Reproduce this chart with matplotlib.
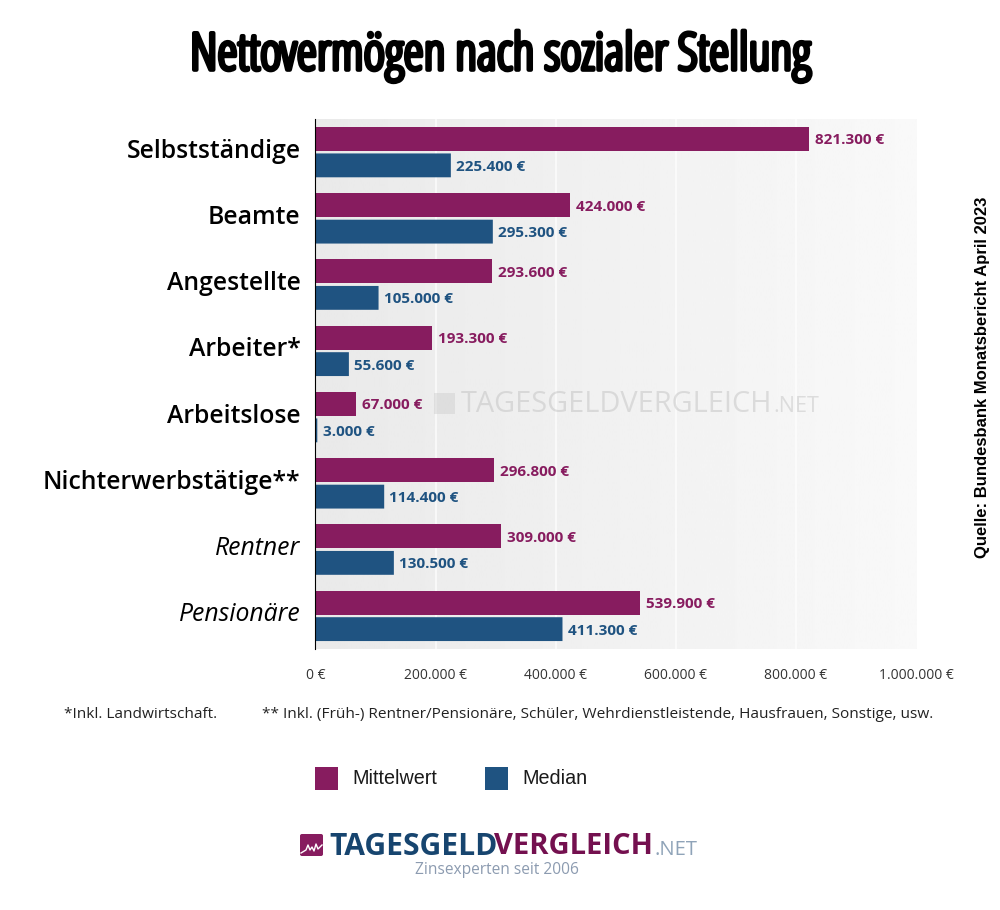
import numpy as np
import matplotlib
matplotlib.use("Agg")
import matplotlib.pyplot as plt
from matplotlib import patheffects as pe
from matplotlib.patches import Rectangle, FancyBboxPatch

categories = ["Selbstständige", "Beamte", "Angestellte", "Arbeiter*", "Arbeitslose",
              "Nichterwerbstätige**", "Rentner", "Pensionäre"]
mittelwert = [821300, 424000, 293600, 193300, 67000, 296800, 309000, 539900]
median = [225400, 295300, 105000, 55600, 3000, 114400, 130500, 411300]
xticks = [0, 200000, 400000, 600000, 800000, 1000000]
italic_categories = {"Rentner", "Pensionäre"}

C_MEAN = "#871c5f"
C_MED = "#1f5381"
W, H = 1000, 910
PX = 72 / 100


def eur(v):
    return f"{v:,.0f} €".replace(",", ".")


plt.rcParams["font.family"] = ["Open Sans", "DejaVu Sans"]
fig = plt.figure(figsize=(W / 100, H / 100), dpi=100, facecolor="white")


def fx(px):
    return px / W


def fy(py):
    return 1 - py / H


ax = fig.add_axes([fx(315.5), fy(649), fx(916 - 315.5), (649 - 119) / H])
ax.set_xlim(0, 1000000)
ax.set_ylim(7.5, -0.5)
grad = np.linspace(0.915, 0.975, 256).reshape(1, -1)
ax.imshow(grad, extent=[0, 1000000, 7.5, -0.5], aspect="auto", cmap="gray", vmin=0, vmax=1, zorder=0)
for t in xticks[1:-1]:
    ax.axvline(t, color="white", lw=1.1, alpha=0.85, zorder=1)

y = np.arange(len(categories))
ax.barh(y - 0.2, mittelwert, height=0.36, color=C_MEAN, zorder=3)
ax.barh(y + 0.2, median, height=0.36, color=C_MED, zorder=3, snap=False)

for i, (a, b) in enumerate(zip(mittelwert, median)):
    ax.annotate(eur(a), (a, i - 0.2), xytext=(4.5, 0), textcoords="offset points", va="center_baseline",
                color=C_MEAN, fontsize=11, fontweight="bold", zorder=4)
    ax.annotate(eur(b), (b, i + 0.2), xytext=(3.8, 0), textcoords="offset points", va="center_baseline",
                color=C_MED, fontsize=11, fontweight="bold", zorder=4)

ax.set_yticks([])
for i, c in enumerate(categories):
    it = c in italic_categories
    ax.annotate(c, (0, i), xycoords=ax.get_yaxis_transform(), xytext=(-15 * PX, 1 * PX), textcoords="offset points",
                ha="right", va="center", fontsize=17.8, color="black", annotation_clip=False,
                style="italic" if it else "normal", fontweight="normal" if it else "semibold")
ax.set_xticks(xticks)
ax.set_xticklabels([eur(t) for t in xticks], fontsize=10, color="#333333")
ax.tick_params(axis="x", length=0, pad=13.5)
for s in ["top", "right", "bottom"]:
    ax.spines[s].set_visible(False)
ax.spines["left"].set_linewidth(0.8)
ax.spines["left"].set_color("black")
ax.spines["left"].set_position(("outward", 0.6))
ax.spines["left"].set_zorder(5)

# Watermark
fig.text(fx(461), fy(404), "TAGESGELDVERGLEICH", fontsize=20.8, color="#b9b9b9", alpha=0.42, va="center", ha="left",
         zorder=2)
fig.text(fx(773), fy(407), ".NET", fontsize=15.5, color="#b9b9b9", alpha=0.42, va="center", ha="left", zorder=2)
fig.patches.append(Rectangle((fx(434), fy(414)), 21 / W, 21 / H, transform=fig.transFigure, fc="#c8c8c8", ec="none", alpha=0.4, zorder=2))

# Title
fig.text(fx(500), fy(56), "Nettovermögen nach sozialer Stellung", ha="center", va="center", fontsize=37,
         family="Open Sans", fontstretch="condensed", fontweight="normal", color="black",
         path_effects=[pe.withStroke(linewidth=3, foreground="black")])

# Source
fig.text(fx(982), fy(377), "Quelle: Bundesbank Monatsbericht April 2023", rotation=90, ha="center", va="center",
         fontsize=12, family="Liberation Sans", fontweight="bold", color="black")

# Footnotes
fig.text(fx(64), fy(715), "*Inkl. Landwirtschaft.", fontsize=11.12, va="center", color="#222222")
fig.text(fx(262), fy(715), "** Inkl. (Früh-) Rentner/Pensionäre, Schüler, Wehrdienstleistende, Hausfrauen, Sonstige, usw.",
         fontsize=11.12, va="center", color="#222222")

# Legend
for px, c, lab, tx in [(315, C_MEAN, "Mittelwert", 352), (485, C_MED, "Median", 522)]:
    fig.patches.append(Rectangle((fx(px), fy(790)), 23 / W, 23 / H, transform=fig.transFigure, fc=c, ec="none"))
    fig.text(fx(tx), fy(778), lab, fontsize=14.2, family="Liberation Sans", va="center", color="#1a1a1a")

# Logo
fig.patches.append(FancyBboxPatch((fx(300), fy(856)), 23 / W, 22 / H, transform=fig.transFigure, fc=C_MEAN, ec="none",
                                  boxstyle="round,pad=0,rounding_size=0.002"))
fig.lines.append(plt.Line2D([fx(p) for p in (301, 306, 308, 310, 312, 314, 316, 318, 322)],
                            [fy(p) for p in (853, 850, 845, 850, 847, 851, 844, 849, 845)],
                            transform=fig.transFigure, color="white", lw=1))
fig.text(fx(329), fy(847), "TAGESGELD", fontsize=21.6, fontweight="bold", color="#17456f", va="center", ha="left",
         fontstretch="condensed")
fig.text(fx(494), fy(847), "VERGLEICH", fontsize=21, fontweight="bold", color="#74104f", va="center", ha="left",
         fontstretch="condensed")
fig.text(fx(654), fy(850), ".NET", fontsize=14.5, color="#8fa3b8", va="center", ha="left")
fig.text(fx(496.5), fy(870), "Zinsexperten seit 2006", fontsize=11.2, color="#8c9bb0", va="center", ha="center")

fig.savefig("out.png", dpi=100)
